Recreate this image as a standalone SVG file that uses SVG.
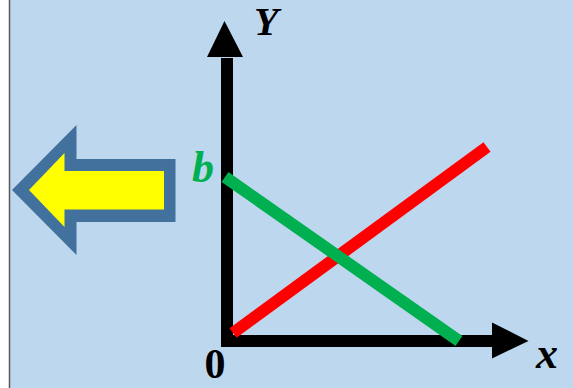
<svg xmlns="http://www.w3.org/2000/svg" width="573" height="388" viewBox="0 0 573 388">
<style>
.lbl{font-family:"Liberation Serif","DejaVu Serif",serif;font-weight:bold}
.it{font-style:italic}
.ax{stroke:#000;stroke-width:12;fill:none}
.head{fill:#000}
</style>
<rect x="0" y="0" width="573" height="388" fill="#FFFFFF"/>
<rect x="9.5" y="0" width="564" height="388" fill="#BDD7EE"/>
<line x1="9.5" y1="0" x2="9.5" y2="388" stroke="#595959" stroke-width="1.5"/>
<g id="arrow-left">
<polygon points="12,190 76.5,125 76.5,159 175.5,159 175.5,222 76.5,222 76.5,255" fill="#41719C"/>
<polygon points="29,190 64.5,153 64.5,171 164,171 164,209.5 64.5,209.5 64.5,227" fill="#FFFF00"/>
</g>
<g id="axes">
<line class="ax" x1="227" y1="58" x2="227" y2="341"/>
<polygon class="head" points="224.5,21 243,57 207,57"/>
<line class="ax" x1="221" y1="341" x2="493" y2="341"/>
<polygon class="head" points="528.5,341 492,322.5 492,358.5"/>
</g>
<g id="lines">
<line x1="233" y1="333" x2="487" y2="147" stroke="#FF0000" stroke-width="12"/>
<line x1="225" y1="177" x2="459" y2="341" stroke="#00B050" stroke-width="12"/>
</g>
<g id="labels">
<text class="lbl it" x="254" y="35" font-size="40">Y</text>
<text class="lbl it" x="192" y="182" font-size="44" fill="#00B050">b</text>
<text class="lbl" x="215" y="378" font-size="42" text-anchor="middle">0</text>
<text class="lbl it" x="536" y="368" font-size="44">x</text>
</g>
</svg>
